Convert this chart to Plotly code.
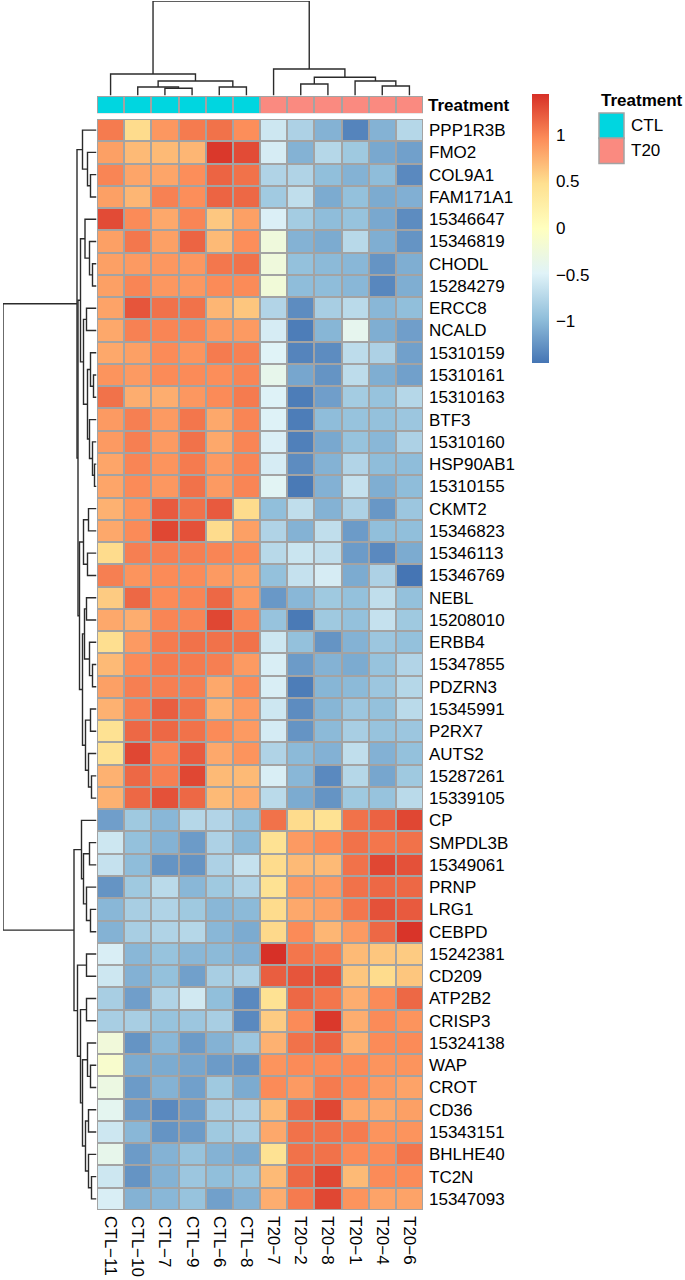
import plotly.graph_objects as go

# ---------------- data ----------------
col_labels = ["CTL−11", "CTL−10", "CTL−7", "CTL−9", "CTL−6", "CTL−8",
              "T20−7", "T20−2", "T20−8", "T20−1", "T20−4", "T20−6"]
treatment = ["CTL", "CTL", "CTL", "CTL", "CTL", "CTL",
             "T20", "T20", "T20", "T20", "T20", "T20"]
treatment_levels = ["CTL", "T20"]
treatment_colors = ["#00D6E0", "#FA8A80"]

row_labels_up = ["PPP1R3B", "FMO2", "COL9A1", "FAM171A1", "15346647", "15346819",
                 "CHODL", "15284279", "ERCC8", "NCALD", "15310159", "15310161",
                 "15310163", "BTF3", "15310160", "HSP90AB1", "15310155", "CKMT2",
                 "15346823", "15346113", "15346769", "NEBL", "15208010", "ERBB4",
                 "15347855", "PDZRN3", "15345991", "P2RX7", "AUTS2", "15287261",
                 "15339105"]
row_labels_down = ["CP", "SMPDL3B", "15349061", "PRNP", "LRG1", "CEBPD", "15242381",
                   "CD209", "ATP2B2", "CRISP3", "15324138", "WAP", "CROT", "CD36",
                   "15343151", "BHLHE40", "TC2N", "15347093"]

upper_values = [
    [1.05, 0.50, 0.90, 1.05, 1.10, 0.95, -0.60, -0.80, -1.05, -1.35, -1.05, -0.75],
    [0.85, 0.70, 0.70, 0.72, 1.40, 1.30, -0.55, -1.05, -0.75, -0.88, -1.12, -1.17],
    [1.00, 0.82, 0.82, 0.95, 1.17, 1.10, -0.78, -0.78, -0.97, -1.05, -0.98, -1.32],
    [0.85, 0.72, 1.02, 0.95, 1.17, 1.15, -0.87, -0.68, -1.10, -0.95, -1.10, -1.07],
    [1.30, 0.97, 0.80, 1.00, 0.62, 0.85, -0.52, -0.85, -0.98, -0.93, -1.12, -1.30],
    [0.85, 1.07, 0.85, 1.17, 0.70, 0.95, -0.25, -1.05, -1.10, -0.73, -1.08, -1.25],
    [0.85, 0.88, 0.90, 0.90, 1.07, 1.10, -0.25, -0.95, -1.00, -1.02, -1.25, -1.08],
    [0.85, 1.00, 0.90, 0.90, 0.97, 0.97, -0.22, -0.98, -0.98, -1.02, -1.33, -1.08],
    [0.83, 1.25, 1.10, 1.10, 0.72, 0.63, -0.77, -1.30, -0.83, -0.72, -1.02, -0.97],
    [0.80, 1.02, 1.00, 1.00, 0.88, 0.88, -0.55, -1.40, -1.03, -0.40, -1.08, -1.18],
    [0.80, 0.85, 0.97, 0.92, 1.05, 1.02, -0.48, -1.35, -1.30, -0.70, -0.80, -1.17],
    [0.92, 0.88, 0.97, 0.97, 0.95, 1.00, -0.38, -1.13, -1.25, -0.70, -1.08, -1.17],
    [1.10, 0.77, 0.77, 0.90, 0.97, 1.05, -0.50, -1.40, -1.18, -0.85, -0.93, -0.75],
    [0.88, 1.03, 0.88, 1.08, 0.80, 1.00, -0.50, -1.40, -0.98, -0.93, -0.95, -0.90],
    [0.88, 1.03, 0.88, 1.10, 0.80, 1.00, -0.52, -1.38, -1.12, -0.93, -1.02, -0.80],
    [0.82, 1.00, 0.92, 1.05, 0.88, 1.00, -0.55, -1.30, -1.05, -0.77, -0.98, -0.98],
    [0.82, 0.97, 0.90, 1.10, 0.88, 1.00, -0.45, -1.42, -1.06, -0.65, -1.08, -0.98],
    [0.75, 0.92, 1.22, 1.10, 1.22, 0.50, -0.97, -0.68, -1.05, -0.80, -1.23, -0.90],
    [0.80, 0.97, 1.32, 1.27, 0.50, 0.85, -0.78, -1.05, -0.68, -1.20, -0.97, -0.97],
    [0.50, 1.03, 1.03, 1.03, 1.00, 0.97, -0.73, -0.62, -0.68, -1.20, -1.32, -1.10],
    [1.03, 0.92, 0.97, 0.97, 0.88, 0.85, -0.95, -0.65, -0.55, -1.10, -0.80, -1.45],
    [0.60, 1.15, 0.97, 1.00, 1.15, 0.88, -1.22, -1.02, -0.88, -0.95, -0.68, -0.95],
    [0.80, 0.77, 1.00, 1.00, 1.32, 1.00, -0.93, -1.42, -0.88, -0.95, -0.65, -0.88],
    [0.48, 0.88, 1.05, 1.10, 1.10, 1.10, -0.60, -0.95, -1.25, -1.05, -0.90, -0.95],
    [0.70, 0.97, 1.05, 1.05, 1.03, 0.88, -0.53, -1.20, -1.05, -1.10, -0.93, -0.77],
    [0.85, 1.03, 1.03, 1.03, 0.80, 0.97, -0.53, -1.40, -1.03, -1.00, -0.90, -0.75],
    [0.75, 1.03, 1.20, 1.10, 0.75, 0.88, -0.60, -1.30, -1.03, -0.90, -0.95, -0.72],
    [0.45, 1.15, 1.15, 1.10, 0.97, 0.88, -0.56, -1.25, -1.00, -0.83, -0.93, -0.90],
    [0.45, 1.32, 1.00, 1.22, 0.80, 0.92, -0.78, -1.00, -1.06, -0.68, -1.06, -0.95],
    [0.75, 1.15, 1.03, 1.32, 0.70, 0.70, -0.53, -1.02, -1.32, -0.75, -1.13, -0.88],
    [0.75, 1.15, 1.27, 1.15, 0.70, 0.77, -0.72, -1.10, -1.25, -0.88, -0.93, -0.72],
]
lower_values = [
    [-1.18, -0.88, -1.02, -0.75, -0.77, -0.95, 1.10, 0.50, 0.45, 1.10, 1.18, 1.32],
    [-0.60, -0.95, -1.05, -1.20, -0.80, -1.00, 0.45, 0.88, 0.97, 1.10, 1.08, 1.10],
    [-0.65, -0.98, -1.25, -1.25, -0.80, -0.65, 0.50, 0.70, 0.70, 1.10, 1.32, 1.27],
    [-1.25, -0.88, -0.72, -1.02, -0.88, -0.78, 0.45, 0.88, 0.88, 1.10, 1.15, 1.15],
    [-1.02, -0.83, -0.78, -0.88, -1.02, -1.00, 0.50, 0.80, 0.85, 1.08, 1.27, 1.22],
    [-1.05, -0.83, -0.78, -0.75, -1.02, -1.10, 0.52, 0.97, 0.72, 0.88, 1.15, 1.42],
    [-0.53, -1.02, -0.93, -1.02, -1.00, -1.06, 1.44, 1.08, 1.05, 0.70, 0.63, 0.60],
    [-0.60, -1.06, -0.95, -1.17, -0.83, -0.80, 1.20, 1.25, 1.27, 0.63, 0.50, 0.63],
    [-0.83, -1.18, -0.78, -0.58, -0.97, -1.32, 0.45, 1.15, 1.08, 0.77, 0.97, 1.15],
    [-0.83, -0.83, -0.93, -0.90, -0.83, -1.32, 0.60, 0.97, 1.40, 0.77, 0.97, 0.92],
    [-0.23, -1.25, -1.02, -1.20, -1.05, -0.90, 0.75, 1.10, 1.18, 0.75, 0.97, 0.97],
    [-0.12, -1.10, -1.10, -1.13, -1.20, -1.25, 0.92, 0.97, 0.97, 0.97, 0.92, 0.92],
    [-0.30, -1.20, -1.05, -1.17, -0.88, -1.10, 0.97, 0.88, 1.05, 0.97, 0.88, 0.83],
    [-0.42, -1.20, -1.32, -1.20, -0.83, -0.80, 0.70, 1.15, 1.32, 0.80, 0.80, 0.85],
    [-0.60, -1.02, -1.25, -1.20, -0.88, -0.83, 0.80, 1.10, 1.10, 1.05, 0.92, 0.92],
    [-0.38, -1.20, -1.05, -0.93, -1.05, -1.10, 0.45, 1.10, 1.10, 0.97, 0.97, 1.08],
    [-0.60, -1.25, -1.05, -0.90, -0.97, -0.93, 0.70, 1.15, 1.32, 0.70, 0.97, 0.97],
    [-0.53, -1.05, -1.02, -0.93, -1.17, -1.05, 0.77, 1.05, 1.32, 0.92, 0.83, 0.83],
]

legend_ticks = [-1, -0.5, 0, 0.5, 1]
legend_ticktext = ["−1", "−0.5", "0", "0.5", "1"]

# dendrograms: [left, right, merge height]; leaves are positions in display order
col_tree = [[0, [[1, [2, 3, 0.72], 0.85], [4, 5, 0.85], 1.45], 2.15],
            [6, [[7, 8, 1.15], [9, [10, 11, 0.95], 1.45], 1.82], 2.65], 9.45]

row_tree_up = [[0, [1, [2, 3, 0.6], 0.9], 1.4],
               [[[4, [5, [6, 7, 0.4], 0.7], 1.15],
                 [[8, 9, 1.0], [[10, [11, 12, 0.3], 0.6], [13, [14, [15, 16, 0.2], 0.4], 0.7], 0.9], 1.3], 1.6],
                [[[17, 18, 0.8], [19, 20, 0.9], 1.3],
                 [[[21, 22, 1.0], [23, [24, 25, 0.4], 0.7], 1.2],
                  [[26, 27, 0.6], [28, [29, 30, 0.5], 0.8], 1.1], 1.4], 1.7], 1.85], 1.95]
row_tree_down = [[31, [[32, 33, 0.7], [34, [35, 36, 0.6], 1.0], 1.3], 1.5],
                 [[37, 38, 1.0], [[39, 40, 1.0],
                                  [[41, [42, 43, 0.6], 0.9],
                                   [[44, 45, 0.8], [46, [47, 48, 0.5], 0.8], 1.1], 1.4], 1.6], 1.9], 2.25]
row_tree = [row_tree_up, row_tree_down, 9.35]

# ---------------- helpers ----------------
W, H = 685, 1280
FONT = "Liberation Sans, Arial, sans-serif"


def fx(p):
    return p / W


def fy(p):
    return 1 - p / H


def dendro(node):
    if isinstance(node, int):
        return float(node), 0.0, [], []
    left, right, h = node
    cl, hl, a1, b1 = dendro(left)
    cr, hr, a2, b2 = dendro(right)
    pos = a1 + a2 + [cl, cl, cr, cr, None]
    hts = b1 + b2 + [hl, h, h, hr, None]
    return (cl + cr) / 2, h, pos, hts


row_labels = row_labels_up + row_labels_down
values = upper_values + lower_values
ncol, nrow = len(col_labels), len(row_labels)

palette = ["#4575B4", "#91BFDB", "#E0F3F8", "#FFFFBF", "#FEE090", "#FC8D59", "#D73027"]
colorscale = [[i / (len(palette) - 1), c] for i, c in enumerate(palette)]

fig = go.Figure()

# main heatmap
fig.add_trace(go.Heatmap(
    z=values, x=list(range(ncol)), y=list(range(nrow)),
    colorscale=colorscale, zmin=-1.45, zmax=1.44,
    xgap=2, ygap=2, xaxis="x", yaxis="y", hoverinfo="skip",
    colorbar=dict(
        thickness=17, thicknessmode="pixels", len=269, lenmode="pixels",
        x=fx(532), xanchor="left", y=fy(94), yanchor="top",
        xpad=0, ypad=0, outlinewidth=0,
        tickvals=legend_ticks, ticktext=legend_ticktext,
        ticks="outside", ticklen=4, tickcolor="rgba(0,0,0,0)",
        tickfont=dict(family=FONT, size=17, color="#000"),
    ),
))

# annotation bar
codes = [treatment_levels.index(t) for t in treatment]
fig.add_trace(go.Heatmap(
    z=[codes], x=list(range(ncol)), y=[0],
    colorscale=[[0, treatment_colors[0]], [0.5, treatment_colors[0]],
                [0.5, treatment_colors[1]], [1, treatment_colors[1]]],
    zmin=0, zmax=1, showscale=False, xgap=2, ygap=2,
    xaxis="x", yaxis="y2", hoverinfo="skip",
))

line_style = dict(color="#2b2b2b", width=1.4)

# column dendrogram
_, _, cpos, chts = dendro(col_tree)
fig.add_trace(go.Scatter(x=cpos, y=chts, mode="lines", line=line_style,
                         xaxis="x", yaxis="y3", hoverinfo="skip"))

# row dendrogram
_, _, rpos, rhts = dendro(row_tree)
fig.add_trace(go.Scatter(x=rhts, y=rpos, mode="lines", line=line_style,
                         xaxis="x2", yaxis="y", hoverinfo="skip"))

grey = "#A3A3A3"
shapes = [
    dict(type="rect", xref="x", yref="y", x0=-0.5, x1=ncol - 0.5, y0=-0.5, y1=nrow - 0.5,
         fillcolor=grey, line=dict(width=0), layer="below"),
    dict(type="rect", xref="x", yref="y2", x0=-0.5, x1=ncol - 0.5, y0=-0.5, y1=0.5,
         fillcolor=grey, line=dict(width=0), layer="below"),
]
# legend for treatment
box_top = [113, 138]
for i, lvl in enumerate(treatment_levels):
    shapes.append(dict(type="rect", xref="paper", yref="paper",
                       x0=fx(599), x1=fx(624), y0=fy(box_top[i] + 25.5), y1=fy(box_top[i]),
                       fillcolor=treatment_colors[i], line=dict(color=grey, width=1.5)))

annotations = [dict(text="<b>Treatment</b>", x=fx(599), y=fy(100), xref="paper", yref="paper",
                    xanchor="left", yanchor="middle", showarrow=False,
                    font=dict(family=FONT, size=17, color="#000"))]
for i, lvl in enumerate(treatment_levels):
    annotations.append(dict(text=lvl, x=fx(629), y=fy(box_top[i] + 12.5), xref="paper", yref="paper",
                            xanchor="left", yanchor="middle", showarrow=False,
                            font=dict(family=FONT, size=17, color="#000")))

tick_font = dict(family=FONT, size=17, color="#000")
fig.update_layout(
    width=W, height=H, margin=dict(l=0, r=0, t=0, b=0),
    paper_bgcolor="white", plot_bgcolor="white", showlegend=False,
    shapes=shapes, annotations=annotations,
    xaxis=dict(domain=[fx(97), fx(423)], range=[-0.5, ncol - 0.5], anchor="y",
               tickvals=list(range(ncol)), ticktext=col_labels, tickangle=90,
               ticks="", showgrid=False, zeroline=False, showline=False,
               tickfont=tick_font, ticklabelstandoff=5),
    yaxis=dict(domain=[fy(1210), fy(119)], range=[nrow - 0.5, -0.5], anchor="x",
               side="right", tickvals=list(range(nrow)), ticktext=row_labels,
               ticks="", showgrid=False, zeroline=False, showline=False,
               tickfont=tick_font, ticklabelstandoff=5),
    yaxis2=dict(domain=[fy(113.5), fy(96)], range=[0.5, -0.5], anchor="x", side="right",
                tickvals=[0], ticktext=["<b>Treatment</b>"], ticks="", showgrid=False,
                zeroline=False, showline=False, tickfont=tick_font, ticklabelstandoff=4),
    yaxis3=dict(domain=[fy(95.5), fy(1)], range=[0, 9.45], anchor="x", visible=False),
    xaxis2=dict(domain=[fx(3), fx(96.5)], range=[9.35, 0], anchor="y", visible=False),
)

fig.write_html("out.html", config={"displayModeBar": False},
               post_script="document.body.style.margin='0px';")
